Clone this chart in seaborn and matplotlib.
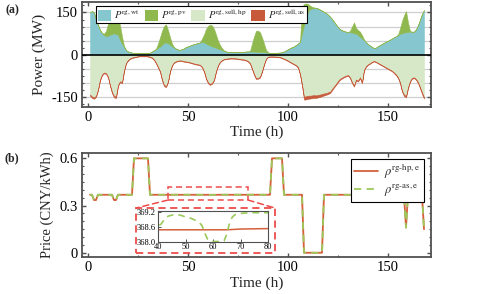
import numpy as np
import seaborn as sns
import matplotlib.pyplot as plt
from matplotlib.patches import Patch, Rectangle, ConnectionPatch
from matplotlib.ticker import MultipleLocator
from matplotlib.lines import Line2D

# ---- data ----
hours = np.arange(1, 169)

# wind output (MW), hourly, one row per day
wind = [
    150, 155, 150, 124, 105, 88, 76, 70, 66, 67, 71, 74, 76, 74, 71, 53, 40, 28, 17, 12, 10, 8, 7, 6,
    6, 6, 6, 6, 6, 7, 8, 12, 16, 20, 25, 29, 36, 42, 44, 41, 36, 30, 26, 22, 19, 18, 20, 23,
    28, 30, 33, 36, 38, 40, 42, 44, 46, 44, 40, 36, 33, 30, 28, 25, 22, 20, 17, 14, 12, 11, 10, 10,
    10, 10, 10, 10, 11, 11, 12, 12, 12, 12, 12, 11, 11, 10, 10, 10, 9, 8, 7, 6, 6, 7, 8, 8,
    10, 12, 16, 20, 24, 27, 30, 35, 40, 46, 75, 105, 130, 152, 162, 164, 165, 165, 164, 160, 156, 152, 148, 142,
    135, 127, 117, 107, 98, 91, 87, 84, 82, 81, 80, 79, 77, 75, 70, 64, 58, 52, 45, 38, 33, 28, 24, 26,
    31, 35, 39, 43, 47, 50, 54, 58, 62, 66, 70, 74, 77, 79, 80, 81, 82, 82, 82, 90, 105, 124, 145, 158,
]
# pv output (MW)
pv = [
    0, 0, 0, 0, 0, 0, 2, 5, 19, 43, 59, 76, 79, 71, 57, 52, 25, 4, 0, 0, 0, 0, 0, 0,
    0, 0, 0, 0, 0, 0, 0, 0, 0, 2, 15, 33, 49, 60, 64, 47, 26, 10, 2, 0, 0, 0, 0, 0,
    0, 0, 0, 0, 0, 0, 0, 0, 12, 28, 52, 66, 74, 74, 64, 47, 28, 15, 7, 2, 0, 0, 0, 0,
    0, 0, 0, 0, 0, 0, 0, 0, 2, 28, 53, 74, 75, 70, 52, 30, 9, 1, 0, 0, 0, 0, 0, 0,
    0, 0, 0, 0, 0, 0, 0, 0, 0, 0, 95, 75, 52, 28, 12, 6, 3, 1, 0, 0, 0, 0, 0, 0,
    0, 0, 0, 0, 0, 0, 0, 0, 0, 0, 5, 21, 38, 20, 18, 18, 12, 3, 0, 0, 0, 0, 0, 0,
    0, 0, 0, 0, 0, 0, 0, 0, 0, 0, 2, 20, 43, 61, 75, 34, 3, 0, 0, 0, 0, 0, 0, 0,
]
# total power sold (MW, magnitude)
sell_total = [
    144, 152, 155, 148, 125, 90, 72, 65, 67, 80, 110, 135, 150, 152, 110, 96, 100, 58, 30, 20, 14, 11, 9, 8,
    6, 5, 5, 5, 5, 6, 8, 11, 18, 30, 45, 60, 90, 110, 114, 96, 60, 38, 28, 24, 22, 21, 22, 24,
    25, 26, 28, 30, 32, 34, 35, 37, 44, 60, 85, 100, 106, 102, 90, 60, 38, 26, 20, 16, 15, 14, 13, 13,
    13, 14, 15, 16, 17, 18, 20, 24, 31, 50, 70, 85, 84, 80, 60, 35, 15, 8, 7, 7, 7, 8, 8, 9,
    12, 15, 18, 22, 26, 30, 34, 38, 45, 70, 110, 158, 157, 155, 154, 153, 152, 152, 150, 148, 146, 143, 141, 138,
    135, 125, 115, 106, 96, 88, 83, 79, 76, 74, 82, 100, 112, 90, 94, 82, 100, 55, 42, 35, 31, 26, 23, 26,
    30, 34, 38, 42, 46, 50, 54, 58, 65, 72, 82, 100, 130, 145, 150, 118, 95, 84, 82, 88, 100, 118, 138, 154,
]
# power sold to the ancillary service (MW, magnitude)
sell_as = [
    4, 5, 5, 4, 3, 3, 3, 3, 3, 3, 3, 4, 5, 5, 4, 3, 3, 3, 2, 2, 2, 2, 2, 2,
    2, 2, 2, 2, 2, 2, 2, 2, 2, 2, 3, 3, 3, 4, 4, 3, 3, 2, 2, 2, 2, 2, 2, 2,
    2, 2, 2, 2, 2, 2, 2, 2, 2, 3, 3, 3, 4, 3, 3, 3, 2, 2, 2, 2, 2, 2, 2, 2,
    2, 2, 2, 2, 2, 2, 2, 2, 2, 2, 3, 3, 3, 3, 3, 2, 2, 2, 2, 2, 2, 2, 2, 2,
    2, 2, 2, 2, 2, 2, 2, 2, 2, 3, 6, 10, 11, 11, 10, 10, 10, 9, 9, 8, 8, 7, 6, 6,
    5, 5, 4, 4, 4, 4, 3, 3, 3, 3, 3, 4, 4, 3, 3, 3, 3, 3, 2, 2, 2, 2, 2, 2,
    2, 2, 2, 2, 2, 2, 2, 2, 3, 3, 3, 3, 4, 5, 5, 4, 3, 3, 3, 3, 4, 4, 5, 5,
]

# prices (CNY/MWh) at the hours where the line changes
hp_hours = [1, 2, 3, 4, 5, 12, 13, 14, 15, 22, 23, 30, 31, 40, 65, 70, 80, 91, 92, 97, 98,
            107, 108, 117, 118, 158, 159, 160, 167, 168]
hp_price = [368.5, 368.5, 335, 335, 368.5, 368.5, 335, 335, 368.5, 368.5, 600, 600, 368.5,
            368.48, 368.48, 368.51, 368.53, 368.5, 600, 600, 368.5,
            368.5, 0, 0, 368.5, 368.5, 160, 368.5, 368.5, 150]

as_hours = [1, 2, 3, 4, 5, 12, 13, 14, 15, 22, 23, 30, 31] + list(range(40, 81)) + \
           [91, 92, 97, 98, 107, 108, 117, 118, 158, 159, 160, 167, 168]
as_price = [368.5, 368.5, 335, 335, 368.5, 368.5, 335, 335, 368.5, 368.5, 600, 600, 368.5,
            368.65, 368.7, 368.85, 369.0, 369.05, 369.08, 369.1, 369.1, 369.08, 369.05,
            369.0, 368.98, 368.95, 368.9, 368.85, 368.78, 368.65, 368.35, 368.1, 368.02,
            368.0, 368.0, 368.0, 368.0, 368.02, 368.3, 368.75, 369.0, 369.1, 369.12,
            369.15, 369.16, 369.17, 369.17, 369.18, 369.18, 369.18, 369.18, 369.18, 369.18, 369.18,
            368.5, 600, 600, 368.5, 368.5, 0, 0, 368.5, 368.5, 160, 368.5, 368.5, 150]

wind = np.array(wind, float)
pv = np.array(pv, float)
sell_as = np.array(sell_as, float)
sell_hp = np.array(sell_total, float) - sell_as

# ---- style ----
sns.set_theme(style="ticks")
plt.rcParams["font.family"] = ["Liberation Serif", "DejaVu Serif"]
plt.rcParams["mathtext.fontset"] = "stix"
plt.rcParams["axes.unicode_minus"] = False
plt.rcParams["axes.edgecolor"] = "#505050"
plt.rcParams["axes.linewidth"] = 1.3

c_wt, c_pv, c_hp, c_as = "#86C6CE", "#8FB94F", "#D7E8C8", "#C65A3A"
c_red, c_green = "#D4603C", "#9CC95A"
c_box = "#EE4B4B"
dash = (0, (4, 2.5))

fig = plt.figure(figsize=(4.78, 2.94), dpi=100)
ax1 = fig.add_axes([82 / 478, 1 - 107 / 294, 349 / 478, 105 / 294])
ax2 = fig.add_axes([82 / 478, 1 - 257 / 294, 349 / 478, 104 / 294])


def style_ticks(ax, size=10.5):
    ax.tick_params(which="both", direction="in", top=True, right=True,
                   labelsize=size, colors="#505050", labelcolor="black")
    ax.tick_params(which="major", length=3, width=1, pad=3)
    ax.tick_params(which="minor", length=1.6, width=0.8)


# ---- (a) power ----
for y in [-150, -100, -50, 50, 100, 150]:
    ax1.axhline(y, color="#CFCFCF", lw=0.9, zorder=0)
ax1.stackplot(hours, wind, pv, colors=[c_wt, c_pv], lw=0.4, edgecolor="face", zorder=2)
ax1.stackplot(hours, -sell_hp, -sell_as, colors=[c_hp, c_as], lw=0.4, edgecolor="face", zorder=2)
ax1.axhline(0, color="black", lw=1.2, zorder=3)
ax1.set_xlim(-3, 171.5)
ax1.set_ylim(-184, 187)
ax1.yaxis.set_major_locator(MultipleLocator(150))
ax1.yaxis.set_minor_locator(MultipleLocator(25))
ax1.xaxis.set_major_locator(MultipleLocator(50))
ax1.xaxis.set_minor_locator(MultipleLocator(25))
style_ticks(ax1)
ax1.set_xlabel("Time (h)", fontsize=11, labelpad=1)
ax1.set_ylabel("Power (MW)", fontsize=11, labelpad=4)
handles = [Patch(fc=c_wt, ec="none"), Patch(fc=c_pv, ec="none"),
           Patch(fc=c_hp, ec="none"), Patch(fc=c_as, ec="none")]
labels = [r"$P^{\mathrm{rg,wt}}$", r"$P^{\mathrm{rg,pv}}$",
          r"$P^{\mathrm{rg,sell,hp}}$", r"$P^{\mathrm{rg,sell,as}}$"]
leg = ax1.legend(handles, labels, ncol=4, loc="upper left", bbox_to_anchor=(0.04, 0.965),
                 fontsize=7.6, frameon=True, fancybox=False, framealpha=1, edgecolor="black",
                 handlelength=1.3, handleheight=1.3, handletextpad=0.25, columnspacing=0.45,
                 borderpad=0.15, borderaxespad=0)
leg.get_frame().set_linewidth(0.8)
leg.set_zorder(5)

# ---- (b) price ----
sns.lineplot(x=np.array(hp_hours), y=np.array(hp_price) / 1000, ax=ax2, color=c_red, lw=1.3,
             estimator=None, sort=False)
sns.lineplot(x=np.array(as_hours), y=np.array(as_price) / 1000, ax=ax2, color=c_green, lw=1.3,
             estimator=None, sort=False, ls=(0, (4, 3)))
ax2.set_xlim(-3, 171.5)
ax2.set_ylim(-0.027, 0.634)
ax2.yaxis.set_major_locator(MultipleLocator(0.3))
ax2.yaxis.set_minor_locator(MultipleLocator(0.05))
ax2.xaxis.set_major_locator(MultipleLocator(50))
ax2.xaxis.set_minor_locator(MultipleLocator(25))
ax2.yaxis.set_major_formatter(plt.FuncFormatter(lambda v, p: "0" if abs(v) < 1e-9 else f"{v:.1f}"))
style_ticks(ax2)
ax2.set_xlabel("Time (h)", fontsize=11, labelpad=2)
ax2.set_ylabel("Price (CNY/kWh)", fontsize=10.5, labelpad=4)
leg2 = ax2.legend([Line2D([], [], color=c_red, lw=1.3),
                   Line2D([], [], color=c_green, lw=1.3, ls=(0, (4, 3)))],
                  [r"$\rho^{\mathrm{rg\text{-}hp,e}}$", r"$\rho^{\mathrm{rg\text{-}as,e}}$"],
                  loc="upper right", bbox_to_anchor=(0.98, 0.945), fontsize=9,
                  fancybox=False, framealpha=1, edgecolor="black", handlelength=1.9,
                  handletextpad=0.5, borderpad=0.3, labelspacing=0.15, borderaxespad=0)
leg2.get_frame().set_linewidth(0.8)

# zoom box + inset frame
ax2.add_patch(Rectangle((40, 0.335), 40, 0.085, fill=False, ec=c_box, lw=1.1, ls=dash))
ax2.add_patch(Rectangle((0.155, 0.038), 0.398, 0.433, transform=ax2.transAxes, fill=False,
                        ec=c_box, lw=1.3, ls=dash, clip_on=False))
for xa, xb in [(40, 0.155), (80, 0.553)]:
    ax2.add_artist(ConnectionPatch(xyA=(xa, 0.335), coordsA=ax2.transData,
                                   xyB=(xb, 0.471), coordsB=ax2.transAxes,
                                   color=c_box, lw=1.1, ls=dash))

ax_in = fig.add_axes([158 / 478, 1 - 242 / 294, 110 / 478, 31 / 294])
sns.lineplot(x=np.array(hp_hours), y=np.array(hp_price), ax=ax_in, color=c_red, lw=1.1,
             estimator=None, sort=False)
sns.lineplot(x=np.array(as_hours), y=np.array(as_price), ax=ax_in, color=c_green, lw=1.2,
             estimator=None, sort=False, ls=(0, (4, 3)))
ax_in.set_xlim(40, 80)
ax_in.set_ylim(367.98, 369.25)
ax_in.set_yticks([368.0, 368.6, 369.2])
ax_in.set_xticks([40, 50, 60, 70, 80])
ax_in.yaxis.set_major_formatter(plt.FuncFormatter(lambda v, p: f"{v:.1f}"))
ax_in.tick_params(direction="in", length=2, width=0.7, labelsize=6, pad=1.5,
                  colors="#505050", labelcolor="black")
ax_in.tick_params(axis="x", pad=1)
for s in ax_in.spines.values():
    s.set_linewidth(0.8)

fig.text(12 / 478, 1 - 10 / 294, "(a)", fontsize=8.5, fontweight="bold", ha="center", va="center")
fig.text(12 / 478, 1 - 158 / 294, "(b)", fontsize=8.5, fontweight="bold", ha="center", va="center")

fig.savefig("out.png", dpi=100)
